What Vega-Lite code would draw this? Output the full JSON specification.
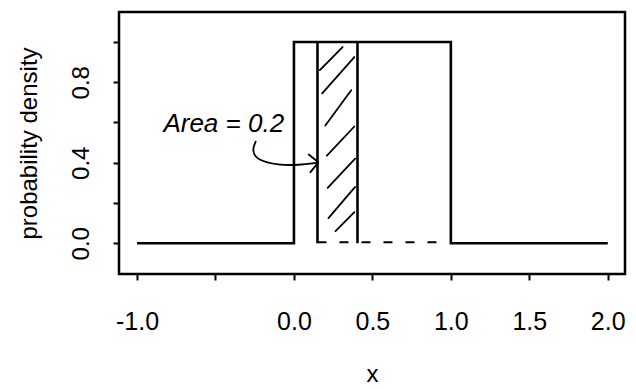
{
  "$schema": "https://vega.github.io/schema/vega-lite/v6.json",
  "autosize": "none",
  "width": 506,
  "height": 262,
  "padding": {"left": 119, "top": 12, "right": 11, "bottom": 115},
  "background": "white",
  "config": {
    "view": {"stroke": "black", "strokeWidth": 2.5, "fill": "white"},
    "font": "Liberation Sans",
    "axis": {
      "grid": false,
      "domain": false,
      "tickColor": "black",
      "tickWidth": 2,
      "tickSize": 6,
      "labelColor": "black",
      "titleColor": "black",
      "labelFont": "Liberation Sans",
      "titleFont": "Liberation Sans",
      "labelFontSize": 24,
      "titleFontSize": 24,
      "titleFontWeight": "normal",
      "labelOverlap": false
    }
  },
  "layer": [
    {
      "data": {"values": [
        {"x": -1, "y": 0, "o": 1},
        {"x": 0, "y": 0, "o": 2},
        {"x": 0, "y": 1, "o": 3},
        {"x": 1, "y": 1, "o": 4},
        {"x": 1, "y": 0, "o": 5},
        {"x": 2, "y": 0, "o": 6}
      ]},
      "mark": {"type": "line", "color": "black", "strokeWidth": 2.6, "clip": true},
      "encoding": {
        "x": {"field": "x", "type": "quantitative", "title": "x",
          "scale": {"domain": [-1.115, 2.11], "nice": false, "zero": false},
          "axis": {"values": [-1, -0.5, 0, 0.5, 1, 1.5, 2], "labelPadding": 29, "titlePadding": 28, "labelFontSize": 25,
            "labelExpr": "datum.value == -0.5 ? '' : (datum.value < 0 ? '-' + format(-datum.value, '.1f') : format(datum.value, '.1f'))"}},
        "y": {"field": "y", "type": "quantitative", "title": "probability density",
          "scale": {"domain": [-0.153, 1.149], "nice": false, "zero": false},
          "axis": {"values": [0, 0.2, 0.4, 0.6, 0.8, 1.0], "labelAngle": -90, "labelAlign": "center", "labelBaseline": "bottom",
            "labelPadding": 20, "titlePadding": 28,
            "labelExpr": "(datum.value == 0 || datum.value == 0.4 || datum.value == 0.8) ? format(datum.value, '.1f') : ''"}},
        "order": {"field": "o", "type": "quantitative"}
      }
    },
    {
      "data": {"values": [{"x": 0.15, "y": 0, "ye": 1}, {"x": 0.405, "y": 0, "ye": 1}]},
      "mark": {"type": "rule", "color": "black", "strokeWidth": 2.6},
      "encoding": {
        "x": {"field": "x", "type": "quantitative"},
        "y": {"field": "y", "type": "quantitative"},
        "y2": {"field": "ye"}
      }
    },
    {
      "data": {"values": [{"x": 0.15, "xe": 0.94, "y": 0.005}]},
      "mark": {"type": "rule", "color": "black", "strokeWidth": 2, "strokeDash": [9, 13]},
      "encoding": {
        "x": {"field": "x", "type": "quantitative"},
        "x2": {"field": "xe"},
        "y": {"field": "y", "type": "quantitative"}
      }
    },
    {
      "data": {"values": [
        {"x": 0.165, "y": 0.86, "xe": 0.31, "ye": 0.975},
        {"x": 0.18, "y": 0.745, "xe": 0.385, "ye": 0.925},
        {"x": 0.2, "y": 0.585, "xe": 0.365, "ye": 0.76},
        {"x": 0.21, "y": 0.435, "xe": 0.385, "ye": 0.58},
        {"x": 0.215, "y": 0.275, "xe": 0.39, "ye": 0.42},
        {"x": 0.22, "y": 0.125, "xe": 0.39, "ye": 0.28},
        {"x": 0.265, "y": 0.06, "xe": 0.385, "ye": 0.155}
      ]},
      "mark": {"type": "rule", "color": "black", "strokeWidth": 1.8, "strokeCap": "round"},
      "encoding": {
        "x": {"field": "x", "type": "quantitative"},
        "x2": {"field": "xe"},
        "y": {"field": "y", "type": "quantitative"},
        "y2": {"field": "ye"}
      }
    },
    {
      "data": {"values": [
        {"x": -0.244, "y": 0.505, "o": 1},
        {"x": -0.268, "y": 0.46, "o": 2},
        {"x": -0.235, "y": 0.412, "o": 3},
        {"x": -0.1, "y": 0.388, "o": 4},
        {"x": 0.03, "y": 0.388, "o": 5},
        {"x": 0.15, "y": 0.4, "o": 6}
      ]},
      "mark": {"type": "line", "color": "black", "strokeWidth": 1.8, "interpolate": "basis", "strokeCap": "round"},
      "encoding": {
        "x": {"field": "x", "type": "quantitative"},
        "y": {"field": "y", "type": "quantitative"},
        "order": {"field": "o", "type": "quantitative"}
      }
    },
    {
      "data": {"values": [
        {"x": 0.094, "y": 0.441, "xe": 0.152, "ye": 0.405},
        {"x": 0.105, "y": 0.353, "xe": 0.152, "ye": 0.398}
      ]},
      "mark": {"type": "rule", "color": "black", "strokeWidth": 1.8, "strokeCap": "round"},
      "encoding": {
        "x": {"field": "x", "type": "quantitative"},
        "x2": {"field": "xe"},
        "y": {"field": "y", "type": "quantitative"},
        "y2": {"field": "ye"}
      }
    },
    {
      "data": {"values": [{"x": -0.832, "y": 0.594, "label": "Area = 0.2"}]},
      "mark": {"type": "text", "align": "left", "baseline": "middle", "fontSize": 26, "font": "Liberation Sans", "fontStyle": "italic", "color": "black"},
      "encoding": {
        "x": {"field": "x", "type": "quantitative"},
        "y": {"field": "y", "type": "quantitative"},
        "text": {"field": "label"}
      }
    }
  ]
}
